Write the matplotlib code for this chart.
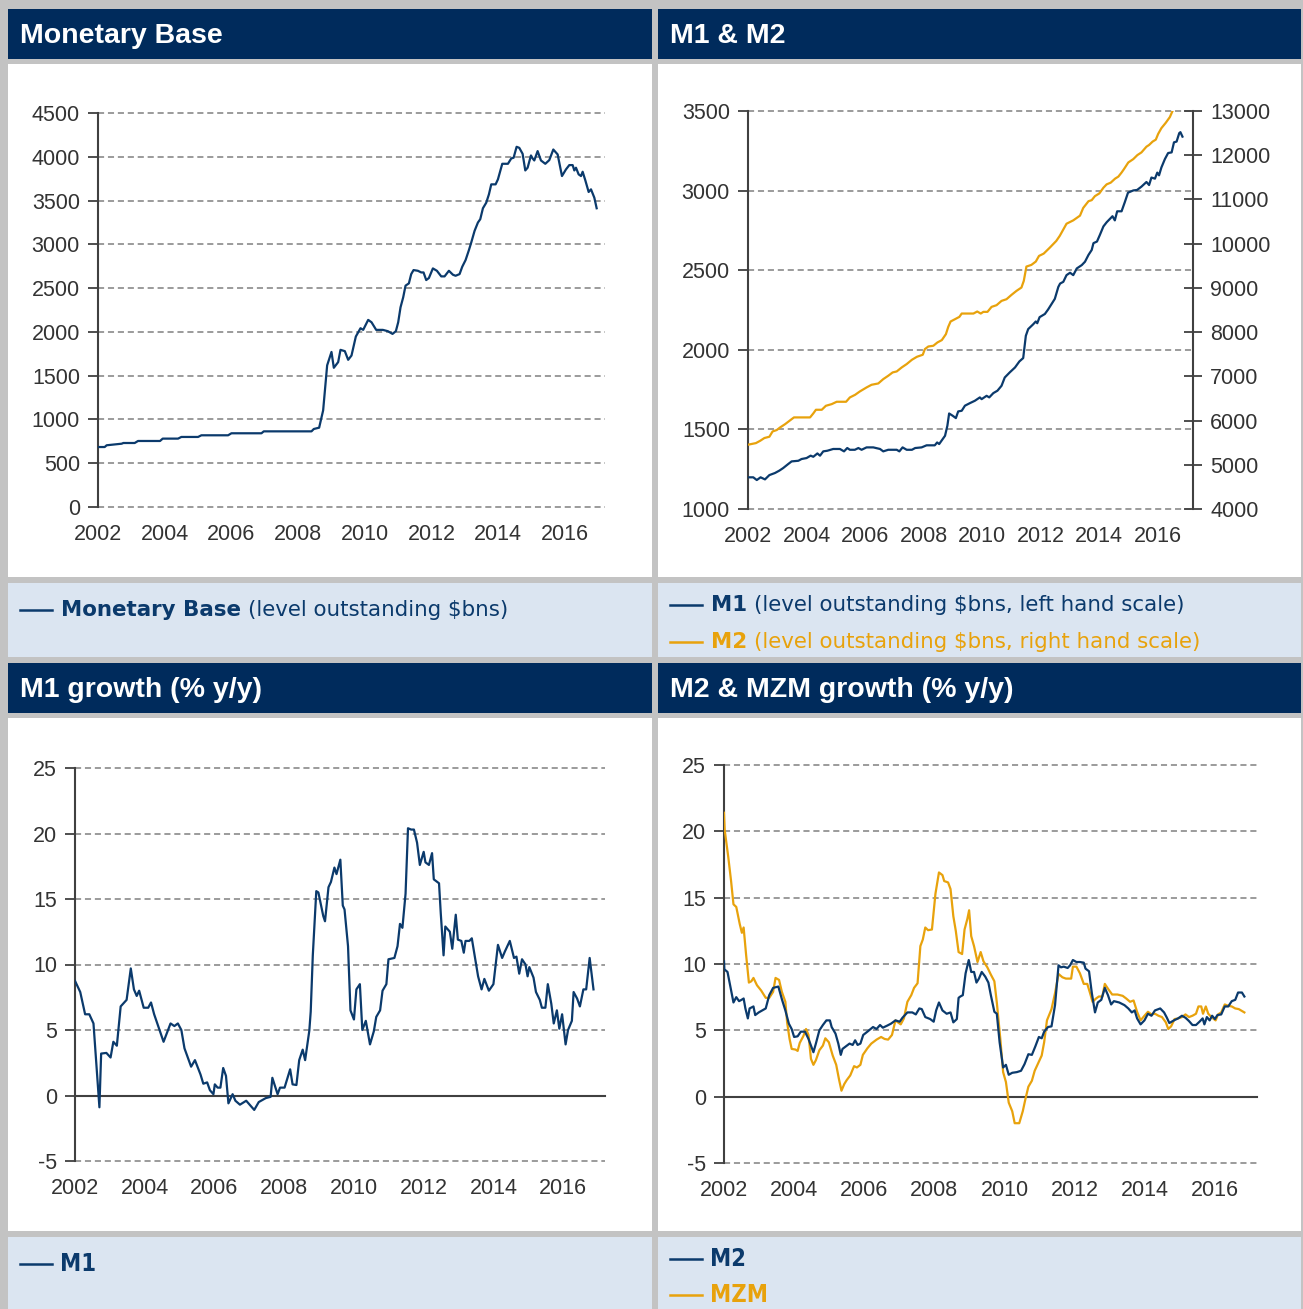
import matplotlib
matplotlib.use("Agg")
import matplotlib.pyplot as plt
import matplotlib.font_manager as fm
from matplotlib.patches import Rectangle

plt.rcParams['axes.unicode_minus'] = False

# ---- data (decimal year, value) ----
monetary_base = [
    (2002.0, 685), (2002.2, 685), (2002.26, 705), (2002.71, 723), (2002.76, 731), (2003.1, 731),
    (2003.2, 754), (2003.86, 754), (2003.94, 781), (2004.4, 781), (2004.5, 800), (2005.0, 800),
    (2005.1, 819), (2005.9, 819), (2006.0, 842), (2006.9, 842), (2006.97, 864), (2008.4, 864),
    (2008.47, 891), (2008.63, 906), (2008.75, 1104), (2008.87, 1618), (2009.0, 1771), (2009.07, 1590),
    (2009.2, 1655), (2009.27, 1795), (2009.4, 1780), (2009.5, 1681), (2009.6, 1730), (2009.73, 1947),
    (2009.87, 2042), (2009.95, 2023), (2010.1, 2137), (2010.2, 2110), (2010.34, 2023), (2010.54, 2023),
    (2010.69, 2008), (2010.83, 1977), (2010.93, 2008), (2011.0, 2110), (2011.07, 2281), (2011.15, 2395),
    (2011.22, 2528), (2011.32, 2554), (2011.39, 2660), (2011.46, 2706), (2011.59, 2698), (2011.69, 2679),
    (2011.76, 2679), (2011.84, 2592), (2011.92, 2615), (2012.04, 2725), (2012.16, 2698), (2012.29, 2634),
    (2012.39, 2634), (2012.52, 2698), (2012.64, 2653), (2012.72, 2641), (2012.84, 2660), (2012.92, 2744),
    (2013.02, 2820), (2013.12, 2934), (2013.19, 3021), (2013.29, 3154), (2013.39, 3249), (2013.46, 3287),
    (2013.54, 3412), (2013.64, 3476), (2013.72, 3571), (2013.79, 3685), (2013.92, 3685), (2013.99, 3742),
    (2014.12, 3920), (2014.29, 3920), (2014.39, 3981), (2014.46, 3989), (2014.55, 4114), (2014.63, 4102),
    (2014.73, 4034), (2014.81, 3844), (2014.88, 3875), (2014.98, 4015), (2015.03, 3981), (2015.08, 3958),
    (2015.18, 4065), (2015.28, 3958), (2015.41, 3920), (2015.53, 3962), (2015.65, 4083), (2015.78, 4027),
    (2015.91, 3780), (2016.03, 3856), (2016.13, 3905), (2016.23, 3905), (2016.28, 3844), (2016.33, 3875),
    (2016.41, 3799), (2016.48, 3780), (2016.53, 3829), (2016.61, 3731), (2016.71, 3598), (2016.78, 3628),
    (2016.88, 3533), (2016.95, 3412),
]

m1_level = [
    (2002.0, 1199), (2002.18, 1199), (2002.3, 1182), (2002.43, 1199), (2002.58, 1186), (2002.73, 1213),
    (2002.92, 1226), (2003.07, 1241), (2003.2, 1257), (2003.37, 1282), (2003.49, 1299), (2003.72, 1303),
    (2003.83, 1314), (2004.0, 1320), (2004.14, 1335), (2004.23, 1328), (2004.37, 1349), (2004.46, 1335),
    (2004.57, 1362), (2004.71, 1366), (2004.91, 1377), (2005.14, 1377), (2005.28, 1362), (2005.39, 1383),
    (2005.48, 1372), (2005.65, 1372), (2005.77, 1383), (2005.88, 1372), (2006.05, 1387), (2006.28, 1387),
    (2006.51, 1377), (2006.62, 1362), (2006.79, 1372), (2007.08, 1372), (2007.17, 1362), (2007.28, 1387),
    (2007.42, 1372), (2007.6, 1372), (2007.71, 1383), (2007.93, 1387), (2008.1, 1400), (2008.38, 1400),
    (2008.46, 1418), (2008.53, 1408), (2008.73, 1460), (2008.81, 1523), (2008.87, 1600), (2008.99, 1586),
    (2009.1, 1571), (2009.18, 1613), (2009.3, 1617), (2009.41, 1649), (2009.58, 1665), (2009.75, 1680),
    (2009.92, 1701), (2009.98, 1690), (2010.15, 1711), (2010.24, 1701), (2010.38, 1728), (2010.52, 1743),
    (2010.66, 1774), (2010.77, 1826), (2010.94, 1858), (2011.12, 1889), (2011.27, 1927), (2011.4, 1948),
    (2011.49, 2088), (2011.57, 2130), (2011.74, 2160), (2011.83, 2178), (2011.88, 2167), (2011.96, 2205),
    (2012.14, 2225), (2012.25, 2253), (2012.36, 2285), (2012.48, 2320), (2012.6, 2395), (2012.66, 2416),
    (2012.77, 2427), (2012.88, 2469), (2013.0, 2484), (2013.11, 2469), (2013.23, 2511), (2013.4, 2532),
    (2013.51, 2553), (2013.63, 2596), (2013.74, 2627), (2013.8, 2670), (2013.92, 2680), (2014.02, 2722),
    (2014.14, 2775), (2014.25, 2801), (2014.45, 2839), (2014.53, 2813), (2014.61, 2870), (2014.76, 2870),
    (2014.87, 2927), (2014.98, 2987), (2015.16, 3001), (2015.29, 3004), (2015.44, 3025), (2015.61, 3054),
    (2015.7, 3035), (2015.78, 3082), (2015.9, 3075), (2015.98, 3113), (2016.04, 3096), (2016.12, 3145),
    (2016.24, 3198), (2016.35, 3236), (2016.47, 3240), (2016.55, 3303), (2016.64, 3308), (2016.73, 3361),
    (2016.77, 3367), (2016.84, 3339),
]

m2_level = [
    (2002.0, 5454), (2002.27, 5490), (2002.42, 5544), (2002.56, 5605), (2002.73, 5634), (2002.84, 5754),
    (2002.98, 5785), (2003.1, 5846), (2003.27, 5920), (2003.42, 5996), (2003.57, 6071), (2004.12, 6071),
    (2004.23, 6161), (2004.32, 6244), (2004.52, 6244), (2004.66, 6334), (2004.86, 6372), (2005.03, 6425),
    (2005.35, 6425), (2005.48, 6523), (2005.66, 6583), (2005.82, 6658), (2006.05, 6749), (2006.22, 6809),
    (2006.45, 6839), (2006.62, 6937), (2006.79, 7013), (2006.94, 7088), (2007.08, 7111), (2007.25, 7201),
    (2007.42, 7277), (2007.6, 7375), (2007.77, 7442), (2007.97, 7488), (2008.04, 7615), (2008.16, 7675),
    (2008.33, 7691), (2008.47, 7766), (2008.62, 7819), (2008.76, 7954), (2008.84, 8119), (2008.92, 8240),
    (2009.07, 8292), (2009.22, 8345), (2009.3, 8420), (2009.7, 8420), (2009.83, 8466), (2009.95, 8420),
    (2010.04, 8458), (2010.18, 8458), (2010.32, 8571), (2010.49, 8609), (2010.66, 8706), (2010.83, 8744),
    (2011.0, 8842), (2011.17, 8932), (2011.34, 9008), (2011.42, 9158), (2011.51, 9482), (2011.68, 9520),
    (2011.83, 9595), (2011.94, 9723), (2012.1, 9775), (2012.31, 9911), (2012.53, 10062), (2012.65, 10178),
    (2012.88, 10451), (2013.11, 10527), (2013.34, 10634), (2013.45, 10808), (2013.63, 10960), (2013.74, 10984),
    (2013.85, 11075), (2014.0, 11136), (2014.14, 11265), (2014.25, 11341), (2014.39, 11380), (2014.54, 11471),
    (2014.65, 11516), (2014.76, 11608), (2014.84, 11684), (2014.99, 11836), (2015.16, 11912), (2015.3, 12003),
    (2015.44, 12064), (2015.61, 12193), (2015.7, 12232), (2015.82, 12308), (2015.93, 12353), (2016.01, 12482),
    (2016.12, 12612), (2016.27, 12734), (2016.41, 12863), (2016.5, 13000), (2016.65, 13120), (2016.84, 13250),
]

m1_growth = [
    (2002.0, 8.75), (2002.15, 7.9), (2002.29, 6.2), (2002.41, 6.2), (2002.53, 5.5), (2002.70, -0.9),
    (2002.75, 3.2), (2002.9, 3.25), (2003.02, 2.9), (2003.1, 4.1), (2003.2, 3.8), (2003.31, 6.8),
    (2003.48, 7.3), (2003.6, 9.7), (2003.69, 8.1), (2003.77, 7.6), (2003.84, 8.0), (2003.97, 6.7),
    (2004.1, 6.7), (2004.18, 7.1), (2004.27, 6.2), (2004.54, 4.1), (2004.74, 5.5), (2004.85, 5.3),
    (2004.95, 5.5), (2005.05, 5.0), (2005.14, 3.6), (2005.33, 2.2), (2005.44, 2.7), (2005.6, 1.6),
    (2005.68, 0.9), (2005.79, 1.0), (2005.87, 0.4), (2005.97, 0.1), (2006.01, 0.85), (2006.09, 0.6),
    (2006.17, 0.6), (2006.25, 2.1), (2006.33, 1.5), (2006.4, -0.6), (2006.52, 0.1), (2006.6, -0.4),
    (2006.73, -0.7), (2006.91, -0.4), (2007.14, -1.1), (2007.27, -0.5), (2007.47, -0.2), (2007.61, -0.1),
    (2007.66, 1.35), (2007.81, 0.1), (2007.88, 0.6), (2008.01, 0.6), (2008.17, 2.0), (2008.24, 0.85),
    (2008.35, 0.8), (2008.43, 2.7), (2008.53, 3.5), (2008.6, 2.7), (2008.72, 4.95), (2008.76, 6.4),
    (2008.82, 10.7), (2008.92, 15.6), (2008.98, 15.5), (2009.12, 13.7), (2009.17, 13.3), (2009.27, 15.9),
    (2009.34, 16.3), (2009.44, 17.4), (2009.5, 16.9), (2009.61, 18.0), (2009.68, 14.5), (2009.73, 14.2),
    (2009.83, 11.4), (2009.9, 6.5), (2010.0, 5.8), (2010.07, 8.1), (2010.17, 8.5), (2010.24, 5.0),
    (2010.34, 5.7), (2010.46, 3.9), (2010.57, 4.9), (2010.64, 6.0), (2010.75, 6.5), (2010.82, 8.0),
    (2010.93, 8.5), (2010.99, 10.4), (2011.16, 10.5), (2011.25, 11.4), (2011.32, 13.1), (2011.39, 12.8),
    (2011.48, 15.4), (2011.55, 20.4), (2011.64, 20.3), (2011.72, 20.3), (2011.81, 19.3), (2011.89, 17.6),
    (2012.0, 18.6), (2012.05, 17.8), (2012.15, 17.6), (2012.24, 18.5), (2012.29, 16.5), (2012.44, 16.2),
    (2012.49, 13.9), (2012.57, 10.7), (2012.62, 12.9), (2012.75, 12.5), (2012.82, 11.2), (2012.92, 13.8),
    (2012.98, 11.9), (2013.08, 11.8), (2013.15, 10.9), (2013.2, 11.8), (2013.31, 11.8), (2013.38, 12.0),
    (2013.46, 10.7), (2013.56, 9.1), (2013.66, 8.1), (2013.74, 8.9), (2013.87, 8.0), (2014.0, 8.5),
    (2014.13, 11.5), (2014.25, 10.5), (2014.33, 11.0), (2014.47, 11.8), (2014.59, 10.5), (2014.66, 10.6),
    (2014.74, 9.3), (2014.82, 10.4), (2014.92, 10.0), (2014.98, 9.1), (2015.03, 9.8), (2015.15, 9.0),
    (2015.22, 7.9), (2015.33, 7.3), (2015.39, 6.7), (2015.49, 6.7), (2015.56, 8.5), (2015.66, 7.0),
    (2015.73, 5.5), (2015.82, 6.5), (2015.89, 5.1), (2015.97, 6.2), (2016.07, 3.9), (2016.14, 5.0),
    (2016.25, 5.7), (2016.3, 7.9), (2016.4, 7.4), (2016.48, 6.8), (2016.58, 8.1), (2016.66, 8.1),
    (2016.76, 10.5), (2016.87, 8.1),
]

m2_growth = [
    (2002.0, 10.2), (2002.01, 9.6), (2002.1, 9.4), (2002.27, 7.1), (2002.35, 7.5), (2002.43, 7.2),
    (2002.5, 7.3), (2002.56, 7.4), (2002.61, 6.65), (2002.68, 5.9), (2002.73, 6.65), (2002.84, 6.8),
    (2002.89, 6.15), (2002.99, 6.35), (2003.19, 6.65), (2003.29, 7.65), (2003.4, 8.2), (2003.55, 8.3),
    (2003.65, 7.35), (2003.75, 6.5), (2003.85, 5.5), (2003.93, 5.1), (2004.0, 4.5), (2004.1, 4.55),
    (2004.19, 4.9), (2004.31, 4.9), (2004.41, 4.35), (2004.55, 3.35), (2004.62, 4.0), (2004.72, 5.0),
    (2004.82, 5.4), (2004.92, 5.75), (2005.02, 5.75), (2005.07, 5.25), (2005.18, 4.75), (2005.26, 4.0),
    (2005.33, 3.15), (2005.38, 3.6), (2005.48, 3.8), (2005.58, 4.0), (2005.67, 3.9), (2005.74, 4.25),
    (2005.81, 3.9), (2005.89, 4.0), (2005.97, 4.65), (2006.09, 4.9), (2006.25, 5.25), (2006.35, 5.1),
    (2006.45, 5.4), (2006.53, 5.2), (2006.65, 5.35), (2006.76, 5.5), (2006.89, 5.75), (2007.01, 5.65),
    (2007.09, 5.95), (2007.23, 6.35), (2007.37, 6.35), (2007.47, 6.2), (2007.57, 6.65), (2007.64, 6.6),
    (2007.74, 6.0), (2007.88, 5.85), (2007.98, 5.65), (2008.05, 6.5), (2008.13, 7.1), (2008.23, 6.5),
    (2008.35, 6.25), (2008.46, 6.35), (2008.54, 5.6), (2008.64, 5.85), (2008.69, 7.45), (2008.74, 7.55),
    (2008.81, 7.65), (2008.89, 9.3), (2008.98, 10.3), (2009.05, 9.4), (2009.13, 9.4), (2009.2, 8.6),
    (2009.27, 8.9), (2009.35, 9.4), (2009.45, 9.05), (2009.54, 8.6), (2009.61, 7.65), (2009.71, 6.4),
    (2009.78, 6.25), (2009.86, 4.1), (2009.96, 2.2), (2010.04, 2.4), (2010.12, 1.65), (2010.22, 1.8),
    (2010.35, 1.85), (2010.47, 1.95), (2010.57, 2.45), (2010.68, 3.2), (2010.78, 3.15), (2010.88, 3.8),
    (2010.98, 4.5), (2011.06, 4.4), (2011.13, 4.9), (2011.24, 5.25), (2011.34, 5.3), (2011.44, 6.9),
    (2011.54, 9.9), (2011.61, 9.75), (2011.69, 9.8), (2011.8, 9.7), (2011.87, 9.9), (2011.95, 10.3),
    (2012.05, 10.15), (2012.15, 10.15), (2012.26, 10.1), (2012.31, 9.65), (2012.41, 9.45), (2012.49, 7.8),
    (2012.58, 6.35), (2012.66, 7.1), (2012.76, 7.3), (2012.86, 8.2), (2012.95, 7.65), (2013.04, 6.95),
    (2013.12, 7.2), (2013.27, 7.1), (2013.42, 6.9), (2013.53, 6.65), (2013.63, 6.35), (2013.71, 6.5),
    (2013.78, 5.9), (2013.88, 5.45), (2013.99, 5.75), (2014.09, 6.25), (2014.19, 6.1), (2014.29, 6.5),
    (2014.44, 6.65), (2014.55, 6.35), (2014.63, 5.95), (2014.7, 5.55), (2014.83, 5.75), (2014.95, 5.9),
    (2015.06, 6.1), (2015.16, 5.95), (2015.26, 5.7), (2015.36, 5.4), (2015.46, 5.4), (2015.56, 5.65),
    (2015.65, 5.9), (2015.7, 5.45), (2015.77, 6.0), (2015.85, 5.75), (2015.92, 6.1), (2016.0, 5.85),
    (2016.07, 6.15), (2016.18, 6.2), (2016.28, 6.8), (2016.38, 6.8), (2016.48, 7.2), (2016.58, 7.3),
    (2016.66, 7.85), (2016.77, 7.85), (2016.84, 7.55),
]

mzm_growth = [
    (2002.0, 21.4), (2002.02, 20.1), (2002.12, 18.1), (2002.2, 16.3), (2002.27, 14.5), (2002.35, 14.3),
    (2002.45, 13.0), (2002.51, 12.35), (2002.56, 12.75), (2002.63, 10.7), (2002.71, 8.6), (2002.78, 8.7),
    (2002.84, 8.95), (2002.94, 8.4), (2003.06, 8.0), (2003.19, 7.45), (2003.29, 7.45), (2003.4, 7.9),
    (2003.47, 8.95), (2003.57, 8.8), (2003.65, 7.9), (2003.75, 7.15), (2003.8, 5.6), (2003.87, 4.35),
    (2003.93, 3.6), (2004.04, 3.55), (2004.1, 3.45), (2004.16, 4.05), (2004.26, 4.55), (2004.34, 5.1),
    (2004.41, 4.65), (2004.48, 2.85), (2004.55, 2.4), (2004.62, 2.75), (2004.72, 3.5), (2004.82, 3.85),
    (2004.89, 4.4), (2004.99, 4.1), (2005.1, 3.1), (2005.2, 2.4), (2005.28, 1.3), (2005.35, 0.45),
    (2005.43, 0.95), (2005.5, 1.25), (2005.6, 1.6), (2005.71, 2.3), (2005.79, 2.2), (2005.89, 2.4),
    (2005.96, 3.15), (2006.09, 3.65), (2006.2, 4.0), (2006.35, 4.3), (2006.48, 4.5), (2006.58, 4.35),
    (2006.68, 4.3), (2006.79, 4.65), (2006.89, 5.75), (2006.96, 5.6), (2007.04, 5.45), (2007.13, 5.9),
    (2007.23, 7.15), (2007.34, 7.65), (2007.42, 8.2), (2007.52, 8.55), (2007.6, 11.35), (2007.67, 11.85),
    (2007.74, 12.75), (2007.82, 12.55), (2007.93, 12.6), (2008.03, 15.3), (2008.13, 16.9), (2008.23, 16.7),
    (2008.28, 16.25), (2008.39, 16.15), (2008.46, 15.65), (2008.54, 13.6), (2008.61, 12.5), (2008.69, 10.9),
    (2008.79, 10.75), (2008.86, 12.6), (2008.94, 13.4), (2008.99, 14.05), (2009.05, 12.1), (2009.13, 11.35),
    (2009.23, 10.15), (2009.32, 10.9), (2009.4, 10.2), (2009.51, 9.75), (2009.61, 9.2), (2009.71, 8.7),
    (2009.78, 7.1), (2009.88, 4.35), (2009.96, 1.85), (2010.04, 1.1), (2010.12, -0.45), (2010.22, -1.1),
    (2010.29, -2.0), (2010.42, -2.0), (2010.52, -1.1), (2010.59, -0.25), (2010.68, 0.75), (2010.78, 1.2),
    (2010.86, 1.95), (2010.98, 2.65), (2011.06, 3.1), (2011.13, 4.1), (2011.21, 5.75), (2011.34, 6.6),
    (2011.44, 7.8), (2011.54, 9.25), (2011.65, 9.0), (2011.75, 8.9), (2011.9, 8.9), (2011.95, 9.8),
    (2012.05, 9.8), (2012.15, 9.3), (2012.26, 8.5), (2012.36, 8.5), (2012.44, 7.8), (2012.51, 7.15),
    (2012.61, 7.4), (2012.69, 7.55), (2012.79, 7.55), (2012.86, 8.5), (2012.96, 8.1), (2013.07, 7.7),
    (2013.22, 7.7), (2013.37, 7.6), (2013.47, 7.4), (2013.58, 7.15), (2013.68, 7.25), (2013.78, 6.4),
    (2013.88, 5.75), (2013.99, 6.1), (2014.09, 6.4), (2014.19, 6.2), (2014.29, 6.25), (2014.39, 6.1),
    (2014.49, 6.0), (2014.6, 5.6), (2014.67, 5.1), (2014.75, 5.3), (2014.85, 5.85), (2014.95, 5.9),
    (2015.06, 6.0), (2015.16, 6.2), (2015.26, 6.0), (2015.36, 6.1), (2015.46, 6.25), (2015.53, 6.8),
    (2015.61, 6.8), (2015.66, 6.25), (2015.74, 6.8), (2015.81, 6.25), (2015.92, 5.95), (2016.02, 5.75),
    (2016.09, 6.2), (2016.18, 6.35), (2016.28, 6.95), (2016.38, 6.85), (2016.48, 6.8), (2016.58, 6.65),
    (2016.68, 6.6), (2016.84, 6.35),
]

year_ticks = list(range(2002, 2017, 2))

# ---- styling ----
W, H = 1303, 1309
NAVY_HDR = '#002b5c'
NAVY = '#0b3a6c'
ORANGE = '#e8a20c'
LEG_BG = '#dbe5f1'
FRAME = '#c3c3c3'
AXC = '#404040'
TICKC = '#333333'
GRIDC = '#808080'
TICKFONT = 'Liberation Sans'


def unzip(pairs):
    return [p[0] for p in pairs], [p[1] for p in pairs]


def px_box(x0, y0, x1, y1):
    return [x0 / W, 1 - y1 / H, (x1 - x0) / W, (y1 - y0) / H]


fig = plt.figure(figsize=(W / 100, H / 100), dpi=100)
fig.patch.set_facecolor(FRAME)

# full-figure background axes in pixel coords
bg = fig.add_axes([0, 0, 1, 1], zorder=-10)
bg.set_xlim(0, W)
bg.set_ylim(H, 0)
bg.axis('off')

cols = [(8, 652), (658, 1301)]
rows = [(9, 59, 64, 577, 583, 657), (663, 713, 718, 1231, 1237, 1309)]
titles = [["Monetary Base", "M1 & M2"], ["M1 growth (% y/y)", "M2 & MZM growth (% y/y)"]]
for r, (h0, h1, w0, w1, l0, l1) in enumerate(rows):
    for c, (x0, x1) in enumerate(cols):
        bg.add_patch(Rectangle((x0, h0), x1 - x0, h1 - h0, color=NAVY_HDR, lw=0))
        bg.add_patch(Rectangle((x0, w0), x1 - x0, w1 - w0, color='white', lw=0))
        bg.add_patch(Rectangle((x0, l0), x1 - x0, l1 - l0, color=LEG_BG, lw=0))
        bg.text(x0 + 12, h1 - 16, titles[r][c], color='white', fontsize=20.5,
                fontweight='bold', family='Liberation Sans', va='baseline', ha='left')


def style_axes(ax, ylo, yhi, ystep, zero_line=False):
    ax.set_facecolor('none')
    ax.set_xlim(2002, 2017.2)
    ax.set_ylim(ylo, yhi)
    ticks = list(range(ylo, yhi + 1, ystep))
    ax.set_yticks(ticks)
    ax.set_xticks(year_ticks)
    for v in ticks:
        if zero_line and v == 0:
            ax.axhline(v, color=AXC, lw=1.5, zorder=1, clip_on=False)
        else:
            ax.axhline(v, color=GRIDC, lw=1.1, ls=(0, (4, 2.5)), zorder=1, clip_on=False)
    for s in ['top', 'right', 'bottom']:
        ax.spines[s].set_visible(False)
    ax.spines['left'].set_color(AXC)
    ax.spines['left'].set_linewidth(1.5)
    ax.tick_params(axis='y', direction='out', length=7, width=1.3, color=AXC, pad=6,
                   labelsize=15.5, labelcolor=TICKC)
    ax.tick_params(axis='x', length=0, pad=12, labelsize=15.5, labelcolor=TICKC)
    for lab in ax.get_xticklabels() + ax.get_yticklabels():
        lab.set_family(TICKFONT)


# panel 1: monetary base
ax1 = fig.add_axes(px_box(98, 113, 605, 507))
style_axes(ax1, 0, 4500, 500)
x, y = unzip(monetary_base)
ax1.plot(x, y, color=NAVY, lw=1.6, zorder=3)

# panel 2: M1 & M2 levels
ax2 = fig.add_axes(px_box(748, 111, 1193, 509))
style_axes(ax2, 1000, 3500, 500)
x, y = unzip(m1_level)
ax2.plot(x, y, color=NAVY, lw=1.6, zorder=3)
ax2r = ax2.twinx()
ax2r.set_ylim(4000, 13000)
ax2r.set_yticks(list(range(4000, 13001, 1000)))
for s in ['top', 'left', 'bottom']:
    ax2r.spines[s].set_visible(False)
ax2r.spines['right'].set_color(AXC)
ax2r.spines['right'].set_linewidth(1.5)
ax2r.tick_params(axis='y', direction='inout', length=13, width=1.3, color=AXC, pad=6,
                 labelsize=15.5, labelcolor=TICKC)
for lab in ax2r.get_yticklabels():
    lab.set_family(TICKFONT)
x, y = unzip(m2_level)
ax2r.plot(x, y, color=ORANGE, lw=1.6, zorder=3)

# panel 3: M1 growth
ax3 = fig.add_axes(px_box(75, 768, 605, 1161))
style_axes(ax3, -5, 25, 5, zero_line=True)
x, y = unzip(m1_growth)
ax3.plot(x, y, color=NAVY, lw=1.6, zorder=3)

# panel 4: M2 & MZM growth
ax4 = fig.add_axes(px_box(724, 765, 1257, 1163))
style_axes(ax4, -5, 25, 5, zero_line=True)
x, y = unzip(mzm_growth)
ax4.plot(x, y, color=ORANGE, lw=1.6, zorder=3)
x, y = unzip(m2_growth)
ax4.plot(x, y, color=NAVY, lw=1.6, zorder=4)

# ---- legends ----
LEGFONT = 'DejaVu Sans'


def legend_row(x0, yc, name, rest, color, size=15.4, name_font=None):
    bg.plot([x0, x0 + 32], [yc, yc], color=color, lw=1.8)
    if name_font is not None:
        t = bg.text(x0 + 40, yc, name, color=color, fontproperties=name_font,
                    va='center', ha='left')
    else:
        t = bg.text(x0 + 41, yc, name, color=color, fontsize=size, fontweight='bold',
                    family=LEGFONT, va='center', ha='left')
    if rest:
        bg.annotate(rest, xy=(1, 0.5), xycoords=t, xytext=(7, 0), textcoords='offset pixels',
                    color=color, fontsize=size, family=LEGFONT, va='center', ha='left')


legend_row(20, 610, "Monetary Base", "(level outstanding $bns)", NAVY)
legend_row(670, 605, "M1", "(level outstanding $bns, left hand scale)", NAVY)
legend_row(670, 642, "M2", "(level outstanding $bns, right hand scale)", ORANGE)

# bottom legends use a narrow bold face when available
cond = [f.fname for f in fm.fontManager.ttflist
        if 'DejaVuSansCondensed-Bold' in f.fname.replace(' ', '')]
if cond:
    small_font = fm.FontProperties(fname=cond[0], size=17)
else:
    small_font = fm.FontProperties(family=LEGFONT, weight='bold', size=15.5)

legend_row(20, 1264, "M1", "", NAVY, name_font=small_font)
legend_row(670, 1259, "M2", "", NAVY, name_font=small_font)
legend_row(670, 1295, "MZM", "", ORANGE, name_font=small_font)

fig.savefig("out.png", dpi=100, facecolor=fig.get_facecolor())
